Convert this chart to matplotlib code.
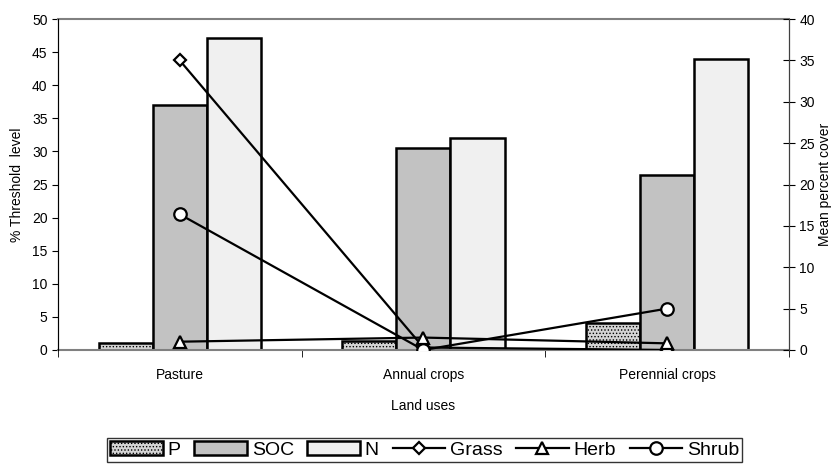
import matplotlib.pyplot as plt
import numpy as np

plt.rcParams['font.family'] = ['Liberation Sans', 'DejaVu Sans']
plt.rcParams['hatch.color'] = '#8a8a8a'
plt.rcParams['hatch.linewidth'] = 0.6

land_uses = ['Pasture', 'Annual crops', 'Perennial crops']
p_vals = [1.0, 1.3, 4.0]
soc_vals = [37.0, 30.5, 26.5]
n_vals = [47.2, 32.0, 44.0]
grass = [35.0, 0.3, 0.0]
herb = [1.0, 1.5, 0.8]
shrub = [16.4, 0.0, 5.0]

fig = plt.figure(figsize=(8.33, 4.66), dpi=100)
ax = fig.add_axes([0.0696, 0.249, 0.8774, 0.710])
x = np.arange(len(land_uses))
w = 0.222

b1 = ax.bar(x - w, p_vals, w, color='#d4d4d4', edgecolor='black', linewidth=1.8, hatch='.....', label='P')
b2 = ax.bar(x, soc_vals, w, color='#c2c2c2', edgecolor='black', linewidth=1.8, label='SOC')
b3 = ax.bar(x + w, n_vals, w, color='#f0f0f0', edgecolor='black', linewidth=1.8, label='N')

ax.set_xlim(-0.5, 2.5)
ax.set_ylim(0, 50)
ax.set_yticks(range(0, 51, 5))
ax.set_xticks(x)
ax.set_xticklabels(land_uses, fontsize=10)
ax.set_xticks([-0.5, 0.5, 1.5, 2.5], minor=True)
ax.tick_params(axis='x', which='major', length=0, pad=13)
ax.tick_params(axis='x', which='minor', length=5, direction='out')
ax.tick_params(axis='y', labelsize=10, length=4, direction='out')
ax.set_xlabel('Land uses', fontsize=10, labelpad=12)
ax.set_ylabel('% Threshold  level', fontsize=10, labelpad=6)
for s in ['top', 'bottom']:
    ax.spines[s].set_color('#808080')
    ax.spines[s].set_linewidth(1.5)
ax.spines['left'].set_color('#404040')

ax2 = ax.twinx()
ax2.set_ylim(0, 40)
ax2.set_yticks(range(0, 41, 5))
ax2.tick_params(axis='y', labelsize=10, length=8, direction='inout')
ax2.set_ylabel('Mean percent cover', fontsize=10, labelpad=2)
ax2.spines['right'].set_color('#404040')
mk = dict(color='black', linewidth=1.6, markerfacecolor='white', markeredgewidth=1.6)
l1, = ax2.plot(x, grass, marker='D', markersize=6.5, label='Grass', **mk)
l2, = ax2.plot(x, herb, marker='^', markersize=9, label='Herb', **mk)
l3, = ax2.plot(x, shrub, marker='o', markersize=9, label='Shrub', **mk)
for s in ['top', 'bottom']:
    ax2.spines[s].set_visible(False)

leg = fig.legend([b1, b2, b3, l1, l2, l3], ['P', 'SOC', 'N', 'Grass', 'Herb', 'Shrub'],
                 loc='center', bbox_to_anchor=(0.51, 0.034), ncol=6, fontsize=14,
                 handlelength=2.7, handletextpad=0.25, columnspacing=0.7,
                 frameon=True, fancybox=False, borderpad=0.15, borderaxespad=0,
                 edgecolor='black')
leg.get_frame().set_linewidth(1.0)

fig.savefig('out.png', dpi=100)
